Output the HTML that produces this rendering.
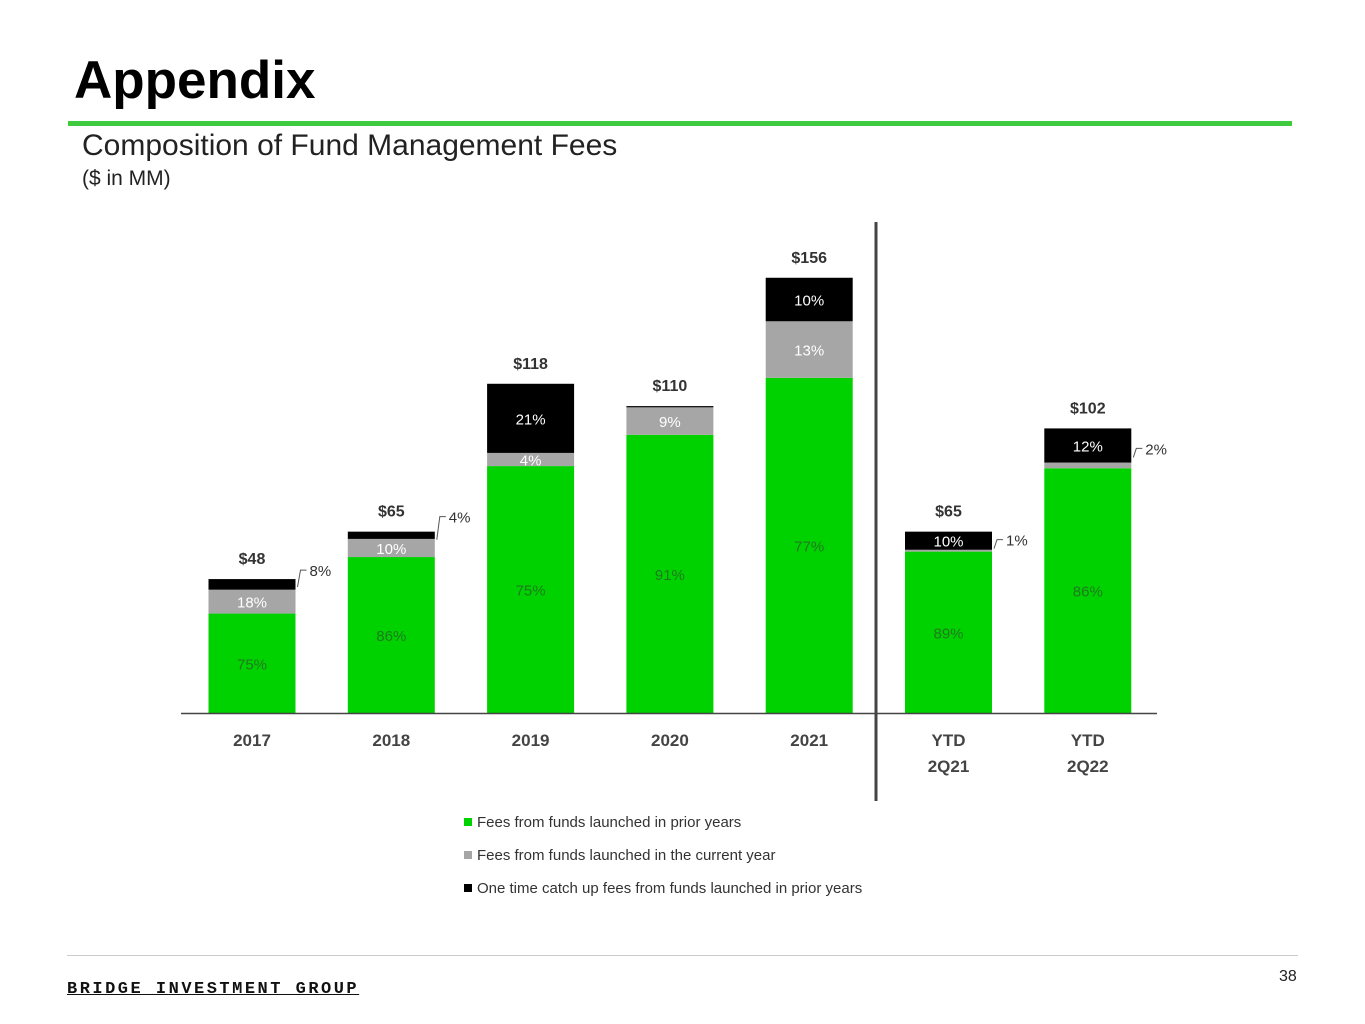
<!DOCTYPE html>
<html><head><meta charset="utf-8">
<style>
body{margin:0;width:1365px;height:1024px;background:#fff;font-family:"Liberation Sans","DejaVu Sans",sans-serif;position:relative;overflow:hidden}
.abs{position:absolute}
</style></head><body>
<div class="abs" style="left:74px;top:50px;font-size:53px;font-weight:bold;color:#000">Appendix</div>
<div class="abs" style="left:68px;top:121px;width:1224px;height:5px;background:#3fcb3f"></div>
<div class="abs" style="left:82px;top:129px;font-size:30px;color:#222">Composition of Fund Management Fees</div>
<div class="abs" style="left:82px;top:167px;font-size:21px;color:#222">($ in MM)</div>
<svg class="abs" style="left:0;top:0" width="1365" height="1024" id="chart"></svg>
<div class="abs" style="left:67px;top:955px;width:1231px;height:1px;background:#ccc"></div>
<div class="abs" style="left:67px;top:980px;font-family:'Liberation Mono',monospace;font-weight:bold;font-size:17px;letter-spacing:2.5px;color:#111;text-decoration:underline">BRIDGE INVESTMENT GROUP</div>
<div class="abs" style="left:1279px;top:968px;font-size:16px;color:#222">38</div>
<script>
const categories=["2017","2018","2019","2020","2021","YTD|2Q21","YTD|2Q22"];
const totals=[48,65,118,110,156,65,102];
const greenPct=[75,86,75,91,77,89,86];
const grayPct=[18,10,4,9,13,1,2];
const blackPct=[8,4,21,0.4,10,10,12];
const grayLabels=["18%","10%","4%","9%","13%","",""];
const blackLabels=["","","21%","","10%","10%","12%"];
const calloutLabels=["8%","4%","","","","1%","2%"];
const calloutDy=[-8,-14,0,0,0,9,21];
const NS="http://www.w3.org/2000/svg";
const svg=document.getElementById('chart');
const baseY=713,scale=2.79,x0=252,step=139.3,bw=87;
function yv(v){return baseY-v*scale;}
function xc(i){return x0+i*step;}
function mk(tag,attrs,txt){const e=document.createElementNS(NS,tag);for(const k in attrs)e.setAttribute(k,attrs[k]);if(txt!==undefined)e.textContent=txt;svg.appendChild(e);return e;}
function txt(x,y,s,size,fill,weight){return mk('text',{x:x,y:y,'font-size':size,fill:fill,'font-weight':weight||'normal','text-anchor':'middle','font-family':'Liberation Sans, sans-serif'},s);}
categories.forEach((c,i)=>{
  const t=totals[i],sum=greenPct[i]+grayPct[i]+blackPct[i];
  const g=t*greenPct[i]/sum,gr=t*grayPct[i]/sum,b=t*blackPct[i]/sum;
  const x=xc(i)-bw/2;
  const segs=[[0,g,'#00d200'],[g,gr,'#a6a6a6'],[g+gr,b,'#000']];
  const names=['bar-green-','bar-gray-','bar-black-'];
  segs.forEach((s,k)=>{
    const r=mk('rect',{x:x,y:yv(s[0]+s[1]),width:bw,height:Math.max(s[1]*scale,0)});
    r.setAttribute('fill',s[2]);
    
    
  });
  const gl=txt(xc(i),(yv(0)+yv(g))/2+6,greenPct[i]+'%',15,'#1f7a1f');
  
  
  if(grayLabels[i]){const l=txt(xc(i),(yv(g)+yv(g+gr))/2+6,grayLabels[i],15,'#fff');
    
    }
  if(blackLabels[i]){const l=txt(xc(i),(yv(g+gr)+yv(t))/2+6,blackLabels[i],15,'#fff');
    
    }
  if(calloutLabels[i]){
    const yt=yv(t);const ly=yt+calloutDy[i];const xr=x+bw;
    const p=mk('polyline',{points:`${xr+2},${Math.max(yt,ly)+8} ${xr+5},${ly-1} ${xr+11},${ly-1}`,fill:'none',stroke:'#555','stroke-width':1});
    
    
    const l=mk('text',{x:xr+14,y:ly+5,'font-size':15,fill:'#333','font-family':'Liberation Sans, sans-serif'},calloutLabels[i]);
    
    
  }
  const tl=txt(xc(i),yv(t)-15,'$'+t,16,'#333','bold');
  
  
  c.split('|').forEach((part,k)=>{const l=txt(xc(i),746+k*26,part,17,'#444','bold');
    
    });
});
const ax=mk('line',{x1:181,y1:713.5,x2:1157,y2:713.5,stroke:'#444','stroke-width':1.5});


const dv=mk('line',{x1:876,y1:222,x2:876,y2:801,stroke:'#444','stroke-width':3});


const leg=[['#00d200','Fees from funds launched in prior years'],['#a6a6a6','Fees from funds launched in the current year'],['#000','One time catch up fees from funds launched in prior years']];
leg.forEach((l,k)=>{
  const y=823+k*33;
  const r=mk('rect',{x:464,y:y-5,width:8,height:8,fill:l[0]});
  
  
  const t=mk('text',{x:477,y:y+4,'font-size':15,fill:'#333','font-family':'Liberation Sans, sans-serif'},l[1]);
  
  
});
</script>
</body></html>
